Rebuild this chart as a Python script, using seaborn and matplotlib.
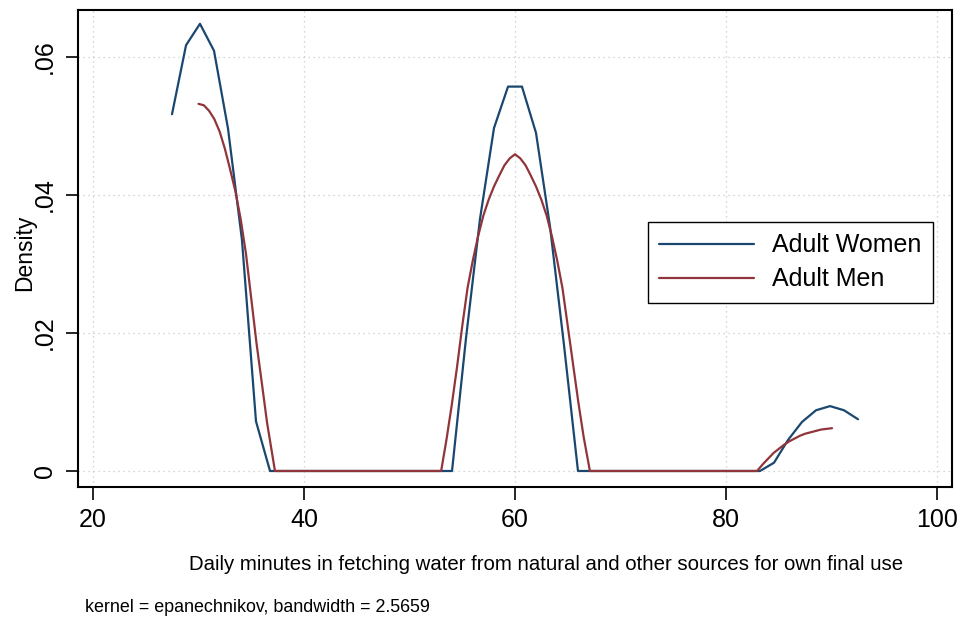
import matplotlib
matplotlib.use("Agg")
import matplotlib.pyplot as plt
import seaborn as sns
import pandas as pd

# Data
women_x = [27.49, 28.82, 30.14, 31.47, 32.80, 34.12, 35.45, 36.78,
           54.03, 55.36, 56.68, 58.01, 59.34, 60.66, 61.99, 63.32, 64.64, 65.97,
           83.22, 84.55, 85.88, 87.20, 88.53, 89.86, 91.18, 92.51]
women_y = [0.0517, 0.0617, 0.0648, 0.0609, 0.0496, 0.0335, 0.0072, 0.0,
           0.0, 0.0193, 0.0365, 0.0497, 0.0557, 0.0557, 0.0490, 0.0354, 0.0183, 0.0,
           0.0, 0.0012, 0.0045, 0.0071, 0.0088, 0.0094, 0.0088, 0.0075]

men_x = [30.0, 30.5, 31.0, 31.5, 32.0, 32.5, 33.0, 33.5, 34.0, 34.5, 35.0, 35.5, 36.0, 36.5, 37.25,
         53.0, 53.5, 54.0, 54.5, 55.0, 55.5, 56.0, 56.5, 57.0, 57.5, 58.0, 58.5, 59.0, 59.5, 60.0,
         60.5, 61.0, 61.5, 62.0, 62.5, 63.0, 63.5, 64.0, 64.5, 65.0, 65.5, 66.0, 66.5, 67.1,
         82.94, 83.5, 84.0, 84.5, 85.0, 85.5, 86.0, 86.5, 87.0, 87.5, 88.0, 88.5, 89.0, 89.5, 90.05]
men_y = [0.0532, 0.0530, 0.0522, 0.0510, 0.0492, 0.0467, 0.0437, 0.0405, 0.0365, 0.0315, 0.0250,
         0.0185, 0.0128, 0.0070, 0.0,
         0.0, 0.0045, 0.0095, 0.0150, 0.0210, 0.0265, 0.0305, 0.0340, 0.0370, 0.0393, 0.0412,
         0.0428, 0.0443, 0.0453, 0.0459,
         0.0453, 0.0443, 0.0428, 0.0412, 0.0393, 0.0370, 0.0340, 0.0305, 0.0265, 0.0210, 0.0155,
         0.0100, 0.0050, 0.0,
         0.0, 0.0010, 0.0018, 0.0026, 0.0032, 0.0038, 0.0043, 0.0047, 0.0051, 0.0054, 0.0056,
         0.0058, 0.0060, 0.0061, 0.0062]

x_ticks = [20, 40, 60, 80, 100]
y_ticks = [0, 0.02, 0.04, 0.06]
y_tick_labels = ["0", ".02", ".04", ".06"]
series_names = ["Adult Women", "Adult Men"]

df = pd.concat([
    pd.DataFrame({"x": women_x, "y": women_y, "group": series_names[0]}),
    pd.DataFrame({"x": men_x, "y": men_y, "group": series_names[1]}),
])

sns.set_theme(style="white")
plt.rcParams['font.family'] = ['Liberation Sans', 'DejaVu Sans']
plt.rcParams['text.color'] = 'black'
plt.rcParams['xtick.color'] = 'black'
plt.rcParams['ytick.color'] = 'black'
plt.rcParams['axes.labelcolor'] = 'black'

fig = plt.figure(figsize=(9.62, 6.23), dpi=100)
ax = fig.add_axes([78/962, 1-487/623, (952-78)/962, (487-10)/623])

palette = {"Adult Women": "#1a476f", "Adult Men": "#90353b"}
sns.lineplot(data=df, x="x", y="y", hue="group", palette=palette, sort=False,
             estimator=None, units="group", linewidth=1.6, ax=ax, legend=True)

ax.set_xlim(18.58, 101.42)
ax.set_ylim(-0.00232, 0.0668)
ax.set_xticks(x_ticks)
ax.set_xticklabels([str(t) for t in x_ticks], fontsize=18)
ax.set_yticks(y_ticks)
ax.set_yticklabels(y_tick_labels, fontsize=18, rotation=90, va="center")
ax.tick_params(axis="both", direction="out", length=9, width=1.2, color="black",
               bottom=True, left=True, pad=6)
for t in x_ticks:
    ax.axvline(t, color="#c8c8c8", linestyle=(0, (1, 3)), linewidth=0.9, zorder=0)
for t in y_ticks:
    ax.axhline(t, color="#c8c8c8", linestyle=(0, (1, 3)), linewidth=0.9, zorder=0)
for s in ax.spines.values():
    s.set_visible(True)
    s.set_color("black")
    s.set_linewidth(1.5)

ax.set_xlabel("")
ax.set_ylabel("Density", fontsize=16.5)
ax.yaxis.set_label_coords(-0.048, 0.49)

fig.text(546/962, 1-565/623, "Daily minutes in fetching water from natural and other sources for own final use",
         ha="center", va="center", fontsize=14.7)
fig.text(85/962, 1-608/623, "kernel = epanechnikov, bandwidth = 2.5659",
         ha="left", va="center", fontsize=12.9)

h, l = ax.get_legend_handles_labels()
leg = ax.legend(h, l, loc="upper left", bbox_to_anchor=(0.652, 0.556), fontsize=18,
                frameon=True, fancybox=False, edgecolor="black", framealpha=1,
                handlelength=3.8, handletextpad=0.72, borderpad=0.46, labelspacing=0.4,
                borderaxespad=0)
leg.get_frame().set_linewidth(1.0)

fig.savefig("out.png", dpi=100, facecolor="white")
